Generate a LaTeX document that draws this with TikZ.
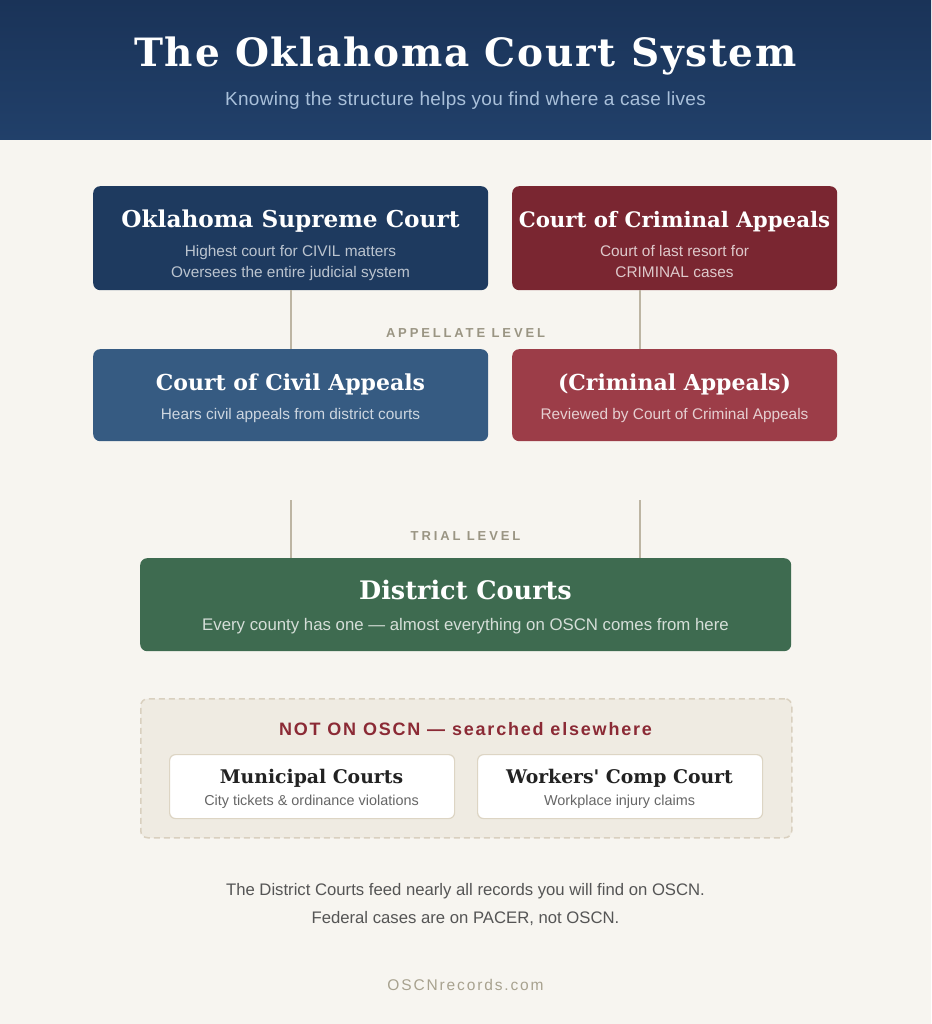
\documentclass[tikz,border=0pt]{standalone}
\usepackage{fontspec}
\setmainfont{DejaVu Serif}
\setsansfont{Liberation Sans}
\usetikzlibrary{positioning}
\definecolor{pagebg}{HTML}{F7F5F0}
\definecolor{hdrtop}{HTML}{1A3358}
\definecolor{hdrbot}{HTML}{21406A}
\definecolor{hdrsub}{HTML}{A9C0DA}
\definecolor{navy}{HTML}{1E3A5F}
\definecolor{steel}{HTML}{365B82}
\definecolor{maroon}{HTML}{7A2631}
\definecolor{rosered}{HTML}{9C3D48}
\definecolor{forest}{HTML}{3E6B50}
\definecolor{linkgray}{HTML}{BDB5A3}
\definecolor{levelgray}{HTML}{9A9583}
\definecolor{offfill}{HTML}{EFEBE2}
\definecolor{offedge}{HTML}{D9D0BF}
\definecolor{cardedge}{HTML}{DDD5C4}
\definecolor{alertred}{HTML}{8B2A35}
\definecolor{inkdark}{HTML}{222222}
\definecolor{inkgray}{HTML}{666666}
\definecolor{footgray}{HTML}{555555}
\definecolor{markgray}{HTML}{A8A28F}

\begin{document}
\begin{tikzpicture}[
  x=1pt, y=-1pt,
  court/.style={rounded corners=7pt, inner sep=0pt, anchor=north west},
  ctitle/.style={font=\fontsize{22}{26}\selectfont\bfseries, text=white, anchor=base},
  csub/.style={font=\sffamily\fontsize{15.4}{17}\selectfont, anchor=base},
  link/.style={draw=linkgray, line width=2pt},
  level/.style={font=\sffamily\bfseries\fontsize{13}{15}\selectfont\addfontfeature{LetterSpace=22}, text=levelgray, anchor=base},
  card/.style={rounded corners=6pt, fill=white, draw=cardedge, line width=1.2pt, inner sep=0pt,
               anchor=north west, minimum width=285, minimum height=64},
]
\useasboundingbox (0,0) rectangle (931,1024);

% Background
\fill[pagebg] (0,0) rectangle (931,1024);
\shade[top color=hdrtop, bottom color=hdrbot] (0,0) rectangle (931,140);

% Title
\node[font=\fontsize{39}{44}\selectfont\bfseries\addfontfeature{LetterSpace=4.5}, text=white, anchor=base] (title) at (465.5,67) {The Oklahoma Court System};
\node[font=\sffamily\fontsize{19}{22}\selectfont\addfontfeature{LetterSpace=1.5}, text=hdrsub, anchor=base] (subtitle) at (465.5,106) {Knowing the structure helps you find where a case lives};

% ============ Appellate level ============
\node[court, fill=navy, minimum width=395, minimum height=104] (sup) at (93,186) {};
\node[ctitle, font=\fontsize{23.2}{26}\selectfont\bfseries] (supT) at (290.5,227) {Oklahoma Supreme Court};
\node[csub, text=navy!30!white] (supS1) at (290.5,256) {Highest court for CIVIL matters};
\node[csub, text=navy!30!white] (supS2) at (290.5,277) {Oversees the entire judicial system};

\node[court, fill=maroon, minimum width=325, minimum height=104] (cca) at (512,186) {};
\node[ctitle, font=\fontsize{21.3}{26}\selectfont\bfseries] (ccaT) at (674.5,227) {Court of Criminal Appeals};
\node[csub, text=maroon!25!white] (ccaS1) at (674.5,256) {Court of last resort for};
\node[csub, text=maroon!25!white] (ccaS2) at (674.5,277) {CRIMINAL cases};

\node[court, fill=steel, minimum width=395, minimum height=92] (civ) at (93,349) {};
\node[ctitle] (civT) at (290.5,390) {Court of Civil Appeals};
\node[csub, text=steel!25!white] (civS) at (290.5,419) {Hears civil appeals from district courts};

\node[court, fill=rosered, minimum width=325, minimum height=92] (crim) at (512,349) {};
\node[ctitle] (crimT) at (674.5,390) {(Criminal Appeals)};
\node[csub, text=rosered!25!white] (crimS) at (674.5,419) {Reviewed by Court of Criminal Appeals};

% Links between tiers
\coordinate (ccaFoot) at (640,290);
\draw[link] (sup.south) -- (civ.north);
\draw[link] (ccaFoot) -- (ccaFoot |- crim.north);
\node[level] (appL) at (465.5,337) {APPELLATE LEVEL};

% ============ Trial level ============
\node[court, fill=forest, minimum width=651, minimum height=93] (dist) at (140,558) {};
\node[font=\fontsize{25.5}{28}\selectfont\bfseries, text=white, anchor=base] (distT) at (465.5,599) {District Courts};
\node[font=\sffamily\fontsize{16.8}{19}\selectfont, text=forest!22!white, anchor=base] (distS) at (465.5,630) {Every county has one — almost everything on OSCN comes from here};

\coordinate (civFeed) at (291,500);
\coordinate (crimFeed) at (640,500);
\draw[link] (civFeed) -- (civFeed |- dist.north);
\draw[link] (crimFeed) -- (crimFeed |- dist.north);
\node[level] (trialL) at (465.5,540) {TRIAL LEVEL};

% ============ Not on OSCN ============
\node[court, fill=offfill, draw=offedge, line width=1.5pt, dash pattern=on 6pt off 4pt,
      minimum width=651, minimum height=139] (off) at (140,698) {};
\node[font=\sffamily\bfseries\fontsize{18}{20}\selectfont\addfontfeature{LetterSpace=10}, text=alertred, anchor=base] (offT) at (465.5,735) {NOT ON OSCN — searched elsewhere};

\node[card] (muni) at (169,754) {};
\node[font=\fontsize{18.8}{21}\selectfont\bfseries, text=inkdark, anchor=base] (muniT) at (311.5,783) {Municipal Courts};
\node[font=\sffamily\fontsize{14.4}{16}\selectfont, text=inkgray, anchor=base] (muniS) at (311.5,805) {City tickets \& ordinance violations};

\node[card] (wcc) at (477,754) {};
\node[font=\fontsize{18.8}{21}\selectfont\bfseries, text=inkdark, anchor=base] (wccT) at (619.5,783) {Workers\textquotesingle{} Comp Court};
\node[font=\sffamily\fontsize{14.4}{16}\selectfont, text=inkgray, anchor=base] (wccS) at (619.5,805) {Workplace injury claims};

% Footer
\node[font=\sffamily\fontsize{16.7}{19}\selectfont, text=footgray, anchor=base] (note1) at (465.5,895) {The District Courts feed nearly all records you will find on OSCN.};
\node[font=\sffamily\fontsize{16.7}{19}\selectfont, text=footgray, anchor=base] (note2) at (465.5,923) {Federal cases are on PACER, not OSCN.};
\node[font=\sffamily\fontsize{15.5}{18}\selectfont\addfontfeature{LetterSpace=12}, text=markgray, anchor=base] (brand) at (465.5,990) {OSCNrecords.com};

\end{tikzpicture}
\end{document}
